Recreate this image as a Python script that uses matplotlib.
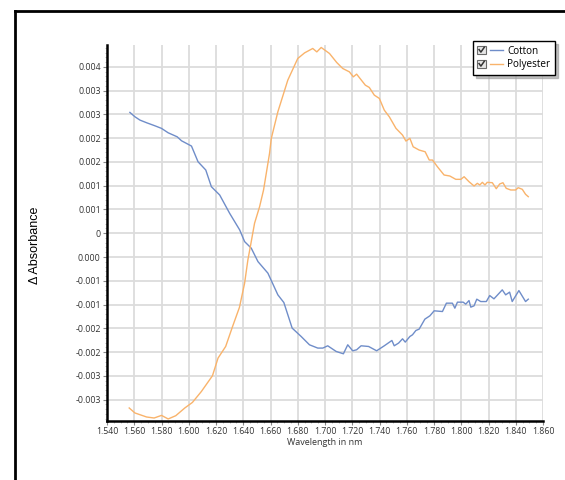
import matplotlib
matplotlib.use("Agg")
import matplotlib.pyplot as plt
from matplotlib.lines import Line2D
from matplotlib.patches import Rectangle
from matplotlib.legend_handler import HandlerLine2D
from matplotlib.ticker import MultipleLocator, FormatStrFormatter

# ---------------- data ----------------
cotton_x = [1.5568, 1.5605, 1.5642, 1.5691, 1.5751, 1.5800, 1.5849, 1.5915, 1.5947, 1.6020,
            1.6068, 1.6125, 1.6166, 1.6227, 1.6300, 1.6374, 1.6410, 1.6459, 1.6508, 1.6581,
            1.6654, 1.6698, 1.6759, 1.6825, 1.6886, 1.6947, 1.6984, 1.7020, 1.7082, 1.7135,
            1.7167, 1.7203, 1.7232, 1.7265, 1.7320, 1.7379, 1.7435, 1.7491, 1.7508, 1.7540,
            1.7569, 1.7589, 1.7623, 1.7642, 1.7667, 1.7691, 1.7733, 1.7770, 1.7801, 1.7862,
            1.7891, 1.7935, 1.7953, 1.7972, 1.8014, 1.8033, 1.8057, 1.8070, 1.8094, 1.8114,
            1.8143, 1.8184, 1.8209, 1.8240, 1.8301, 1.8326, 1.8355, 1.8374, 1.8423, 1.8472,
            1.8492]
cotton_y = [0.002542, 0.002450, 0.002380, 0.002324, 0.002261, 0.002206, 0.002113, 0.002029, 0.001945, 0.001834,
            0.001504, 0.001330, 0.000979, 0.000805, 0.000420, 0.000069, -0.000176, -0.000315, -0.000597, -0.000840,
            -0.001296, -0.001458, -0.001996, -0.002172, -0.002347, -0.002416, -0.002416, -0.002368, -0.002487, -0.002536,
            -0.002347, -0.002473, -0.002452, -0.002368, -0.002382, -0.002473, -0.002368, -0.002256, -0.002368, -0.002311,
            -0.002221, -0.002290, -0.002172, -0.002137, -0.002046, -0.002017, -0.001807, -0.001737, -0.001632, -0.001647,
            -0.001471, -0.001471, -0.001576, -0.001450, -0.001450, -0.001492, -0.001416, -0.001555, -0.001527, -0.001387,
            -0.001437, -0.001437, -0.001311, -0.001380, -0.001191, -0.001296, -0.001239, -0.001437, -0.001206, -0.001437,
            -0.001387]

poly_x = [1.5563, 1.5605, 1.5691, 1.5746, 1.5800, 1.5849, 1.5905, 1.5971, 1.6027, 1.6093,
          1.6174, 1.6215, 1.6271, 1.6320, 1.6372, 1.6410, 1.6434, 1.6452, 1.6483, 1.6520,
          1.6549, 1.6593, 1.6606, 1.6654, 1.6727, 1.6800, 1.6850, 1.6910, 1.6940, 1.6972,
          1.7033, 1.7086, 1.7130, 1.7179, 1.7208, 1.7232, 1.7296, 1.7325, 1.7362, 1.7399,
          1.7435, 1.7472, 1.7521, 1.7569, 1.7594, 1.7623, 1.7647, 1.7691, 1.7735, 1.7765,
          1.7789, 1.7825, 1.7874, 1.7916, 1.7960, 1.7997, 1.8021, 1.8057, 1.8094, 1.8118,
          1.8136, 1.8155, 1.8174, 1.8191, 1.8228, 1.8257, 1.8282, 1.8306, 1.8330, 1.8363,
          1.8399, 1.8418, 1.8448, 1.8472, 1.8492]
poly_y = [-0.003676, -0.003781, -0.003866, -0.003887, -0.003832, -0.003907, -0.003838, -0.003676, -0.003559, -0.003328,
          -0.002998, -0.002626, -0.002382, -0.001975, -0.001560, -0.001050, -0.000561, -0.000282, 0.000210, 0.000559,
          0.000910, 0.001681, 0.001996, 0.002555, 0.003221, 0.003676, 0.003794, 0.003887, 0.003815, 0.003908,
          0.003781, 0.003592, 0.003466, 0.003395, 0.003290, 0.003347, 0.003115, 0.003067, 0.002905, 0.002836,
          0.002590, 0.002450, 0.002206, 0.002065, 0.001939, 0.001996, 0.001819, 0.001750, 0.001714, 0.001540,
          0.001540, 0.001399, 0.001225, 0.001204, 0.001134, 0.001134, 0.001189, 0.001084, 0.000994, 0.001050,
          0.001015, 0.001071, 0.001015, 0.001071, 0.001063, 0.000937, 0.001036, 0.001063, 0.000945, 0.000910,
          0.000910, 0.000958, 0.000924, 0.000819, 0.000769]

series_names = ["Cotton", "Polyester"]
series_colors = ["#6f8dc9", "#f9b36b"]

y_ticks = [0.0035, 0.003, 0.0025, 0.002, 0.0015, 0.001, 0.0005, 0.0,
           -0.0005, -0.001, -0.0015, -0.002, -0.0025, -0.003, -0.0035]
y_tick_labels = ["0.004", "0.003", "0.003", "0.002", "0.002", "0.001", "0.001", "0",
                 "0.000", "-0.001", "-0.001", "-0.002", "-0.002", "-0.003", "-0.003"]
x_ticks = [1.54, 1.56, 1.58, 1.60, 1.62, 1.64, 1.66, 1.68, 1.70, 1.72,
           1.74, 1.76, 1.78, 1.80, 1.82, 1.84, 1.86]

x_label = "Wavelength in nm"
y_label = "\u0394 Absorbance"

# ---------------- legend handler with checkbox ----------------
class CheckHandler(HandlerLine2D):
    def create_artists(self, legend, orig_handle, xdescent, ydescent,
                       width, height, fontsize, trans):
        s = height * 1.2
        x0 = -xdescent
        y0 = -ydescent + (height - s) / 2.0
        rect = Rectangle((x0, y0), s, s, facecolor="#e6e6e6", edgecolor="#6a6a6a",
                         lw=0.8, transform=trans)
        check = Line2D([x0 + 0.2 * s, x0 + 0.42 * s, x0 + 0.82 * s],
                       [y0 + 0.55 * s, y0 + 0.25 * s, y0 + 0.82 * s],
                       color="#333333", lw=1.1, transform=trans)
        ym = -ydescent + height / 2.0
        line = Line2D([x0 + s + 0.45 * s, x0 + width], [ym, ym],
                      color=orig_handle.get_color(), lw=1.0, transform=trans)
        return [rect, check, line]

# ---------------- figure ----------------
fig = plt.figure(figsize=(5.65, 4.8), dpi=100)
fig.patch.set_facecolor("white")
ax = fig.add_axes([107 / 565, 59 / 480, 436 / 565, 376 / 480])

l1, = ax.plot(cotton_x, cotton_y, color=series_colors[0], lw=1.0, label=series_names[0], zorder=3)
l2, = ax.plot(poly_x, poly_y, color=series_colors[1], lw=1.0, label=series_names[1], zorder=3)

ax.set_xlim(1.54, 1.86)
ax.set_ylim(-0.00395, 0.00396)

ax.set_xticks(x_ticks)
ax.xaxis.set_major_formatter(FormatStrFormatter("%.3f"))
ax.xaxis.set_minor_locator(MultipleLocator(0.005))
ax.set_yticks(y_ticks)
ax.set_yticklabels(y_tick_labels)
ax.yaxis.set_minor_locator(MultipleLocator(0.0001))

tick_font = "Open Sans"
for lab in ax.get_xticklabels() + ax.get_yticklabels():
    lab.set_fontfamily(tick_font)
    lab.set_fontsize(6.3)
    lab.set_color("#333333")

ax.tick_params(axis="both", which="major", length=3, width=0.8, color="#888888", pad=1.5)
ax.tick_params(axis="both", which="minor", length=1.5, width=0.5, color="#aaaaaa")

ax.grid(True, which="major", color="#dcdcdc", lw=1.3, zorder=0)
ax.set_axisbelow(True)

for sp in ["top", "right"]:
    ax.spines[sp].set_visible(False)
for sp in ["left", "bottom"]:
    ax.spines[sp].set_linewidth(1.8)
    ax.spines[sp].set_color("black")

ax.set_xlabel(x_label, fontsize=6.5, family=tick_font, color="#333333", labelpad=1)
fig.text(35 / 565, 1 - 245 / 480, y_label, rotation=90, ha="center", va="center",
         fontsize=9, family="Liberation Sans", color="black")

leg = ax.legend(handles=[l1, l2], loc="upper right",
                bbox_to_anchor=(555 / 565, 1 - 41 / 480), bbox_transform=fig.transFigure,
                handler_map={Line2D: CheckHandler()},
                prop={"family": tick_font, "size": 7.2},
                frameon=True, fancybox=False, shadow={"color": "#999999", "alpha": 0.6},
                handlelength=2.6, handletextpad=0.4, borderpad=0.45,
                labelspacing=0.3, borderaxespad=0)
leg.get_frame().set_edgecolor("black")
leg.get_frame().set_linewidth(1.0)

# outer frame
fig.add_artist(Line2D([15 / 565, 15 / 565], [0, 1 - 11 / 480], color="black", lw=2,
                      transform=fig.transFigure))
fig.add_artist(Line2D([15 / 565, 1], [1 - 11 / 480, 1 - 11 / 480], color="black", lw=2,
                      transform=fig.transFigure))

fig.savefig("out.png", dpi=100)
